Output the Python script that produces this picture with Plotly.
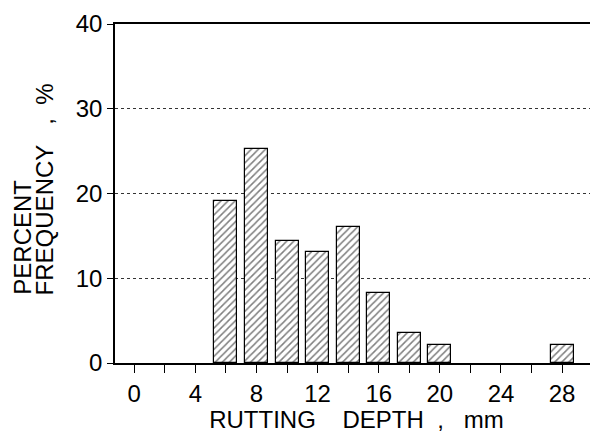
import plotly.graph_objects as go

depth_mm = [6, 8, 10, 12, 14, 16, 18, 20, 28]
percent_freq = [19.1, 25.2, 14.4, 13.1, 16.1, 8.3, 3.5, 2.1, 2.1]
x_tick_vals = list(range(0, 31, 2))
x_tick_text = [str(v) if v % 4 == 0 and v <= 28 else "" for v in x_tick_vals]
y_tick_vals = [0, 10, 20, 30, 40]

FONT = "Liberation Sans, Arial, Helvetica, sans-serif"
FS = 24
XR = [-1.26, 30.35]

fig = go.Figure()
fig.add_trace(go.Bar(
    x=depth_mm, y=percent_freq, width=1.5,
    marker=dict(color="white", line=dict(color="black", width=1.2),
                pattern=dict(shape="/", fgcolor="black", bgcolor="white", size=5, solidity=0.3)),
    showlegend=False, hoverinfo="x+y",
))
# invisible trace on top axis for the frame line
fig.add_trace(go.Scatter(x=[None], y=[None], xaxis="x2", showlegend=False))

fig.update_layout(
    width=590, height=425,
    margin=dict(l=107, r=0, t=16, b=70),
    paper_bgcolor="white", plot_bgcolor="white",
    font=dict(family=FONT, size=FS, color="black"),
    bargap=0,
    xaxis=dict(range=XR, tickvals=x_tick_vals, ticktext=x_tick_text,
               ticks="outside", ticklen=8, tickwidth=1.2, tickcolor="black",
               showline=True, linecolor="black", linewidth=1.6,
               showgrid=False, zeroline=False,
               tickfont=dict(size=FS, family=FONT),
               title=dict(text="RUTTING&nbsp;&nbsp;&nbsp;&nbsp;DEPTH&nbsp;&nbsp;,&nbsp;&nbsp;&nbsp;mm",
                          font=dict(size=FS, family=FONT), standoff=1)),
    xaxis2=dict(overlaying="x", side="top", range=XR, showline=True,
                linecolor="black", linewidth=1.6, showticklabels=False, ticks="",
                showgrid=False, zeroline=False),
    yaxis=dict(range=[0, 40], tickvals=y_tick_vals, ticks="outside", ticklen=6,
               tickwidth=1.2, tickcolor="black", showline=True, linecolor="black",
               linewidth=1.6, showgrid=True, gridcolor="#333", griddash="3px,3px",
               gridwidth=0.8, zeroline=False, tickfont=dict(size=FS, family=FONT)),
)

fig.add_annotation(text="PERCENT", xref="paper", yref="paper", x=-0.192, y=0.195,
                   xanchor="center", yanchor="bottom", textangle=-90, showarrow=False,
                   font=dict(size=FS, family=FONT))
fig.add_annotation(text="FREQUENCY&nbsp;&nbsp;&nbsp;,&nbsp;&nbsp;%", xref="paper", yref="paper",
                   x=-0.146, y=0.195, xanchor="center", yanchor="bottom", textangle=-90,
                   showarrow=False, font=dict(size=FS, family=FONT))

fig.write_html("out.html")
